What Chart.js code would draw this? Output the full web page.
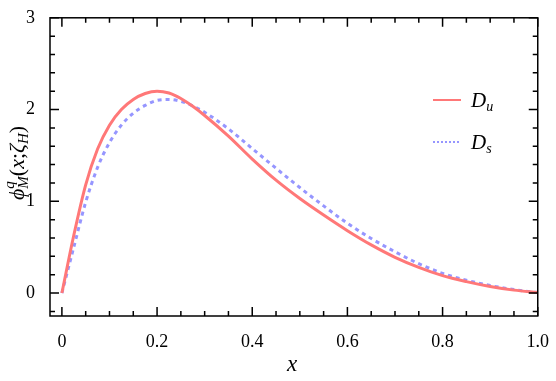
<!DOCTYPE html>
<html>
<head>
<meta charset="utf-8">
<script src="https://cdn.jsdelivr.net/npm/chart.js@4.4.1/dist/chart.umd.min.js"></script>
<style>
  html, body { margin: 0; padding: 0; background: #fff; }
  #wrap { width: 556px; height: 381px; position: relative; }
</style>
</head>
<body>
<div id="wrap"><canvas id="chart"></canvas></div>
<script>
// values
const xs = [0, 0.025, 0.05, 0.075, 0.1, 0.125, 0.15, 0.175, 0.2, 0.225, 0.25, 0.275, 0.3,
            0.35, 0.4, 0.45, 0.5, 0.55, 0.6, 0.65, 0.7, 0.75, 0.8, 0.85, 0.9, 0.95, 1.0];
const du = [0, 0.63, 1.18, 1.57, 1.83, 2.0, 2.11, 2.175, 2.2, 2.18, 2.12, 2.035, 1.935,
            1.71, 1.46, 1.23, 1.03, 0.85, 0.68, 0.525, 0.39, 0.28, 0.19, 0.125, 0.072, 0.032, 0.005];
const ds = [0, 0.5, 0.99, 1.37, 1.64, 1.83, 1.96, 2.045, 2.10, 2.11, 2.09, 2.04, 1.97,
            1.79, 1.575, 1.36, 1.15, 0.95, 0.76, 0.595, 0.45, 0.32, 0.215, 0.14, 0.082, 0.038, 0.005];
const xTicks = [0, 0.2, 0.4, 0.6, 0.8, 1.0];
const yTicks = [0, 1, 2, 3];
const xMinor = [0.05, 0.1, 0.15, 0.25, 0.3, 0.35, 0.45, 0.5, 0.55, 0.65, 0.7, 0.75, 0.85, 0.9, 0.95];
const yMinor = [-0.2, 0.2, 0.4, 0.6, 0.8, 1.2, 1.4, 1.6, 1.8, 2.2, 2.4, 2.6, 2.8];

const RED = 'rgb(255, 120, 120)';
const BLUE = 'rgb(150, 150, 255)';
const SERIF = '"Liberation Serif", "DejaVu Serif", serif';

// draw a run of text pieces: [text, size, italic, dy, 'stack'?]
function richText(ctx, parts, x, y, align) {
  let total = 0;
  const widths = parts.map(p => {
    ctx.font = (p[2] ? 'italic ' : '') + p[1] + 'px ' + SERIF;
    const w = p[4] === 'stack' ? 0 : ctx.measureText(p[0]).width;
    total += w;
    return w;
  });
  let cx = align === 'center' ? x - total / 2 : x;
  parts.forEach((p, i) => {
    ctx.font = (p[2] ? 'italic ' : '') + p[1] + 'px ' + SERIF;
    ctx.fillText(p[0], cx, y + p[3]);
    cx += widths[i];
  });
}

const framePlugin = {
  id: 'frame',
  afterDraw(c) {
    const ctx = c.ctx;
    const a = c.chartArea;
    const sx = c.scales.x, sy = c.scales.y;
    ctx.save();
    ctx.strokeStyle = '#000';
    ctx.lineWidth = 1.5;
    ctx.strokeRect(a.left, a.top, a.right - a.left, a.bottom - a.top);
    ctx.beginPath();
    const xtick = (vals, len) => {
      vals.forEach(v => {
        const px = sx.getPixelForValue(v);
        ctx.moveTo(px, a.bottom); ctx.lineTo(px, a.bottom - len);
        ctx.moveTo(px, a.top); ctx.lineTo(px, a.top + len);
      });
    };
    const ytick = (vals, len) => {
      vals.forEach(v => {
        const py = sy.getPixelForValue(v);
        ctx.moveTo(a.left, py); ctx.lineTo(a.left + len, py);
        ctx.moveTo(a.right, py); ctx.lineTo(a.right - len, py);
      });
    };
    xtick(xTicks, 9); xtick(xMinor, 5);
    ytick(yTicks, 9); ytick(yMinor, 5);
    ctx.stroke();

    // legend
    ctx.textBaseline = 'alphabetic';
    ctx.fillStyle = '#000';
    ctx.lineWidth = 2;
    ctx.strokeStyle = RED;
    ctx.beginPath(); ctx.moveTo(433, 100); ctx.lineTo(461, 100); ctx.stroke();
    ctx.strokeStyle = BLUE;
    ctx.setLineDash([2, 2]);
    ctx.beginPath(); ctx.moveTo(433, 142); ctx.lineTo(461, 142); ctx.stroke();
    ctx.setLineDash([]);
    richText(ctx, [['D', 21, true, 0], ['u', 14, true, 4]], 471, 107, 'left');
    richText(ctx, [['D', 21, true, 0], ['s', 14, true, 4]], 471, 149, 'left');

    // x axis title
    richText(ctx, [['x', 23, true, 0]], 292, 371, 'center');

    // y axis title, rotated
    ctx.translate(24, 163);
    ctx.rotate(-Math.PI / 2);
    richText(ctx, [
      ['\u03D5', 22, true, 0],
      ['q', 15, true, -10, 'stack'],
      ['M', 15, true, 4],
      ['(', 22, false, 0],
      ['x', 22, true, 0],
      [';', 22, false, 0],
      ['\u03B6', 22, true, 0],
      ['H', 15, true, 4],
      [')', 22, false, 0]
    ], 0, 0, 'center');
    ctx.restore();
  }
};

new Chart(document.getElementById('chart'), {
  type: 'line',
  data: {
    datasets: [
      {
        label: 'Du',
        data: xs.map((x, i) => ({ x, y: du[i] })),
        borderColor: RED,
        borderWidth: 3,
        pointRadius: 0,
        cubicInterpolationMode: 'monotone'
      },
      {
        label: 'Ds',
        data: xs.map((x, i) => ({ x, y: ds[i] })),
        borderColor: BLUE,
        borderWidth: 3,
        borderDash: [4, 4],
        pointRadius: 0,
        cubicInterpolationMode: 'monotone'
      }
    ]
  },
  options: {
    responsive: true,
    maintainAspectRatio: false,
    animation: false,
    layout: { padding: { top: 13, right: 15, left: 0, bottom: 0 } },
    plugins: { legend: { display: false }, tooltip: { enabled: false } },
    scales: {
      x: {
        type: 'linear',
        min: -0.025,
        max: 1.0,
        grid: { display: false },
        border: { display: false },
        afterBuildTicks: s => { s.ticks = xTicks.map(v => ({ value: v })); },
        afterFit: s => { s.height = 65; },
        ticks: {
          color: '#000',
          padding: 7,
          maxRotation: 0,
          font: { family: SERIF, size: 18 },
          callback: v => v === 0 ? '0' : v.toFixed(1)
        }
      },
      y: {
        min: -0.25,
        max: 3,
        grid: { display: false },
        border: { display: false },
        afterBuildTicks: s => { s.ticks = yTicks.map(v => ({ value: v })); },
        afterFit: s => { s.width = 50; },
        ticks: {
          color: '#000',
          padding: 7,
          font: { family: SERIF, size: 18 },
          callback: v => String(v)
        }
      }
    }
  },
  plugins: [framePlugin]
});
</script>
</body>
</html>
